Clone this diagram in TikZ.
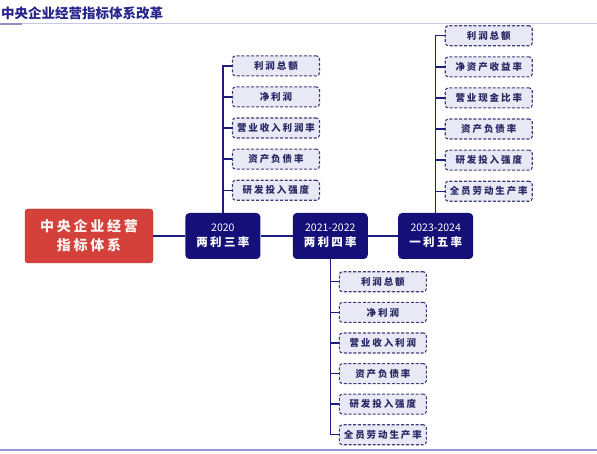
\documentclass[tikz,border=0pt]{standalone}
\usepackage{fontspec}
\newfontfamily\cjk{Noto Sans CJK SC}
\newfontfamily\cjkspaced[LetterSpace=20]{Noto Sans CJK SC}
\usetikzlibrary{positioning}

\definecolor{navy}{RGB}{20,16,120}
\definecolor{linkblue}{RGB}{30,30,130}
\definecolor{rootred}{RGB}{212,64,58}
\definecolor{itemfill}{RGB}{233,233,246}
\definecolor{itemedge}{RGB}{60,60,125}
\definecolor{itemtext}{RGB}{40,40,100}
\definecolor{titleblue}{RGB}{40,36,140}
\definecolor{ruleline}{RGB}{200,200,226}
\definecolor{footline}{RGB}{150,150,215}

\newcommand{\yearnum}[1]{{\cjk\mdseries\fontsize{10.5}{12}\selectfont #1}}

\begin{document}
\begin{tikzpicture}[x=1pt, y=1pt, node distance=10pt,
		rootbox/.style={draw=rootred!85!black, fill=rootred, rounded corners=3pt, minimum width=128pt, minimum height=54pt, align=center, text=white!94!rootred, font=\cjkspaced\bfseries\fontsize{14}{19}\selectfont},
		yearbox/.style={fill=navy, rounded corners=4pt, minimum width=75pt, minimum height=46pt, align=center, text=white, font=\cjkspaced\bfseries\fontsize{11.5}{15}\selectfont},
		itembox/.style={draw=itemedge, fill=itemfill, dashed, dash pattern=on 3pt off 1.8pt, line width=1.1pt, rounded corners=3pt, minimum width=87pt, minimum height=20pt, inner sep=1pt, text=itemtext, font=\cjkspaced\bfseries\fontsize{9.5}{11}\selectfont},
		link/.style={draw=linkblue, line width=1.4pt}]
		\useasboundingbox (0,0) rectangle (597,453);
		
		% Titolo e righe
		\node[anchor=west, inner sep=0pt, text=titleblue, font=\cjk\bfseries\fontsize{13.5}{15}\selectfont] (title) at (1,440) {中央企业经营指标体系改革};
		\draw[ruleline, line width=0.9pt] (0,429.5) -- (597,429.5);
		\draw[ruleline!70!navy, line width=1.4pt] (0,429) -- (22,429);
		\draw[footline, line width=1.2pt] (0,3) -- (597,3);
		
		% Nodi principali (riga centrale)
		\node[rootbox] (root) at (89,217) {中央企业经营\\指标体系};
		\node[yearbox, right=32pt of root] (y2020) {\yearnum{2020}\\两利三率};
		\node[yearbox, right=32pt of y2020] (y2021) {\yearnum{2021-2022}\\两利四率};
		\node[yearbox, right=30pt of y2021] (y2023) {\yearnum{2023-2024}\\一利五率};
		
		% Indicatori 2020 (sopra)
		\node[itembox, above right=12pt and 9pt of y2020.north] (a5) {研发投入强度};
		\node[itembox, above=of a5] (a4) {资产负债率};
		\node[itembox, above=of a4] (a3) {营业收入利润率};
		\node[itembox, above=of a3] (a2) {净利润};
		\node[itembox, above=of a2] (a1) {利润总额};
		
		% Indicatori 2021-2022 (sotto)
		\node[itembox, below right=12pt and 8.5pt of y2021.south] (b1) {利润总额};
		\node[itembox, below=9.5pt of b1] (b2) {净利润};
		\node[itembox, below=9.5pt of b2] (b3) {营业收入利润};
		\node[itembox, below=9.5pt of b3] (b4) {资产负债率};
		\node[itembox, below=9.5pt of b4] (b5) {研发投入强度};
		\node[itembox, below=9.5pt of b5] (b6) {全员劳动生产率};
		
		% Indicatori 2023-2024 (sopra)
		\node[itembox, above right=11pt and 9pt of y2023.north] (c6) {全员劳动生产率};
		\node[itembox, above=of c6] (c5) {研发投入强度};
		\node[itembox, above=of c5] (c4) {资产负债率};
		\node[itembox, above=of c4] (c3) {营业现金比率};
		\node[itembox, above=of c3] (c2) {净资产收益率};
		\node[itembox, above=of c2] (c1) {利润总额};
		
		% Collegamenti riga centrale
		\draw[link] (root) -- (y2020);
		\draw[link] (y2020) -- (y2021);
		\draw[link] (y2021) -- (y2023);
		
		% Collegamenti verso gli indicatori
		\foreach \i in {1,...,5} \draw[link] (y2020.north) |- (a\i.west);
		\foreach \i in {1,...,6} \draw[link] (y2021.south) |- (b\i.west);
		\foreach \i in {1,...,6} \draw[link] (y2023.north) |- (c\i.west);
		
	\end{tikzpicture}
\end{document}
